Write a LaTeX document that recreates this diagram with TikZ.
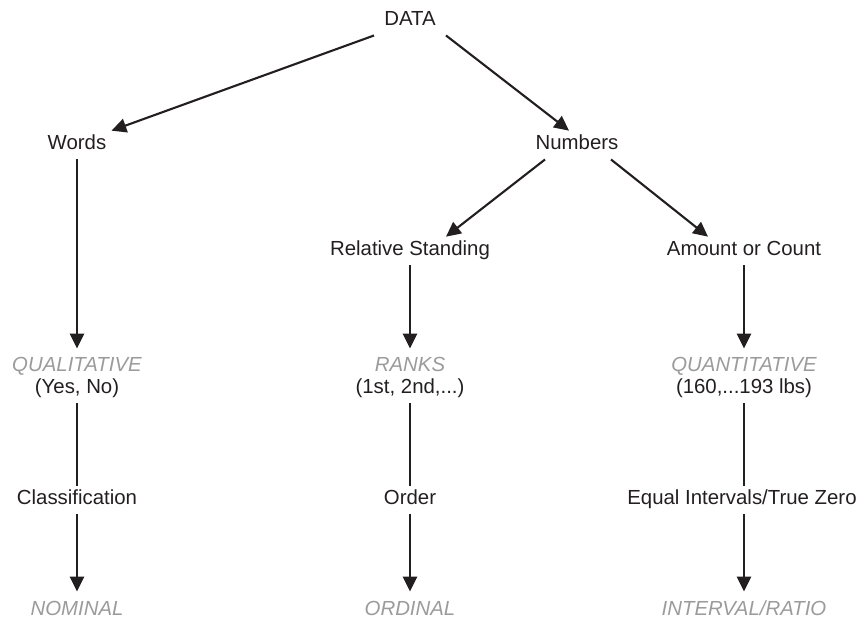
\documentclass[tikz,border=0pt]{standalone}
\usepackage{fontspec}
\setmainfont{Liberation Sans}
\usetikzlibrary{arrows.meta}
\definecolor{inkblack}{HTML}{231F20}
\definecolor{levelgray}{HTML}{9B9B9B}
\begin{document}
\begin{tikzpicture}[>={Triangle[length=10.5pt,width=10pt]},line width=1.5pt,draw=inkblack,
    every node/.style={text=inkblack,font=\fontsize{14.5}{16}\selectfont,inner sep=3pt,text height=10pt,text depth=3pt,anchor=base},
    level/.style={text=levelgray,font=\fontsize{14.5}{16}\selectfont\itshape}]
\useasboundingbox (0,0) rectangle (21.6,15.475);
    % top
\node (data) at (10.25,14.825) {DATA};
\node (words) at (1.925,11.725) {Words};
\node (numbers) at (14.425,11.725) {Numbers};
\node (relstand) at (10.25,9.075) {Relative Standing};
\node (amount) at (18.6,9.075) {Amount or Count};
    % middle
\node[level] (qual) at (1.925,6.175) {QUALITATIVE};
\node (yesno) at (1.925,5.625) {(Yes, No)};
\node[level] (ranks) at (10.25,6.175) {RANKS};
\node (firsts) at (10.25,5.625) {(1st, 2nd,...)};
\node[level] (quant) at (18.6,6.175) {QUANTITATIVE};
\node (lbs) at (18.6,5.625) {(160,...193 lbs)};
    % bottom
\node (classif) at (1.925,2.85) {Classification};
\node (order) at (10.25,2.85) {Order};
\node (equal) at (18.55,2.85) {Equal Intervals/True Zero};
\node[level] (nominal) at (1.925,0.1) {NOMINAL};
\node[level] (ordinal) at (10.25,0.1) {ORDINAL};
\node[level] (interval) at (18.6,0.1) {INTERVAL/RATIO};
    % arrows
\draw[->] ([xshift=-0.9cm]data.south) -- (words.north east);
\draw[->] ([xshift=0.9cm]data.south) -- ([xshift=-0.2cm]numbers.north);
\draw[->] ([xshift=-0.8cm]numbers.south) -- ([xshift=0.9cm]relstand.north);
\draw[->] ([xshift=0.85cm]numbers.south) -- ([xshift=-0.9cm]amount.north);
\draw[->,shorten >=3pt] (words) -- (qual);
\draw[->,shorten >=3pt] (relstand) -- (ranks);
\draw[->,shorten >=3pt] (amount) -- (quant);
\draw (yesno) -- (yesno |- classif.north);
\draw (firsts) -- (order);
\draw (lbs) -- (lbs |- equal.north);
\draw[->,shorten >=3pt] (classif) -- (nominal);
\draw[->,shorten >=3pt] (order) -- (ordinal);
\draw[->,shorten >=3pt] (lbs |- equal.south) -- (interval);
\end{tikzpicture}
\end{document}
